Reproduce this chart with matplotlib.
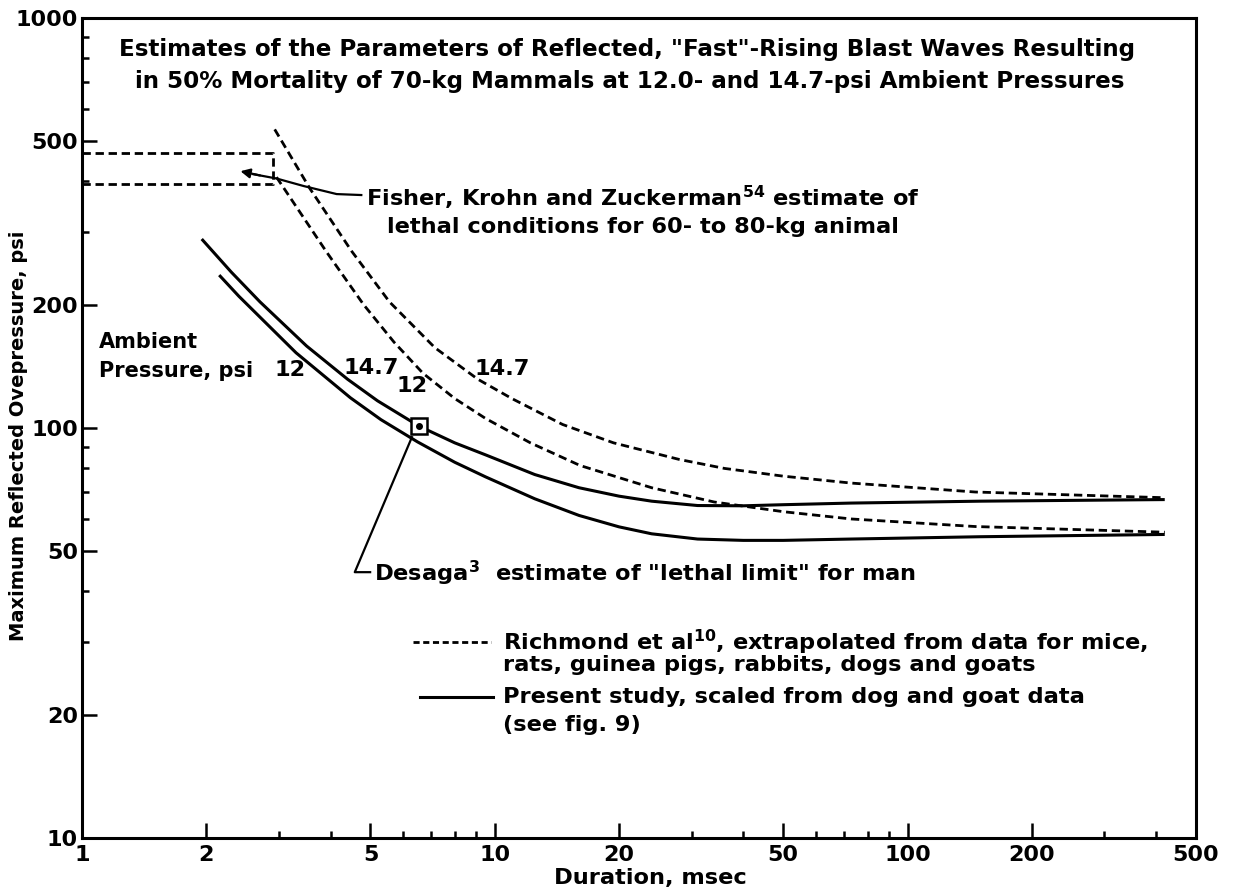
import matplotlib
matplotlib.use("Agg")
import matplotlib.pyplot as plt

# ---------------- data ----------------
x_major = [1, 2, 5, 10, 20, 50, 100, 200, 500]
x_major_labels = ["1", "2", "5", "10", "20", "50", "100", "200", "500"]
x_minor = [3, 4, 6, 7, 8, 9, 30, 40, 60, 70, 80, 90, 300, 400]
y_major = [10, 20, 50, 100, 200, 500, 1000]
y_major_labels = ["10", "20", "50", "100", "200", "500", "1000"]
y_minor = [30, 40, 60, 70, 80, 90, 300, 400, 600, 700, 800, 900]

# Present study (solid)
present_147_x = [1.95, 2.3, 2.7, 3.5, 4.4, 5.2, 6.56, 8.0, 9.5, 12.5, 16, 20, 24, 31, 40, 50, 73, 150, 420]
present_147_y = [289, 240, 203, 158.5, 131.5, 116.5, 101, 92, 86, 77, 71.5, 68.2, 66.3, 64.7, 64.6, 65.0, 65.6, 66.3, 66.9]
present_12_x = [2.15, 2.4, 3.3, 4.47, 5.3, 6.5, 8.0, 9.5, 12.5, 16, 20, 24, 31, 40, 50, 73, 150, 420]
present_12_y = [236, 209.5, 152.6, 118.5, 104.8, 92.5, 82.5, 76, 67.2, 61.2, 57.4, 55.2, 53.6, 53.2, 53.2, 53.6, 54.3, 55.0]

# Richmond et al (dashed)
richmond_147_x = [2.93, 3.57, 4.5, 5.56, 7.16, 9.1, 11.0, 14.6, 19.4, 28, 36, 50, 73, 146, 420]
richmond_147_y = [535, 383, 270, 203, 157, 131.5, 118, 102, 92, 83.8, 79.7, 76.3, 73.4, 69.8, 67.6]
richmond_12_x = [2.96, 3.91, 4.81, 5.7, 6.7, 8.0, 9.5, 12.2, 16.1, 24, 34, 50, 73, 146, 420]
richmond_12_y = [409, 269, 200, 162, 136, 118, 105.5, 92, 81, 71.5, 66, 62.5, 60, 57.5, 55.7]

# Fisher, Krohn and Zuckerman box of lethal conditions
fisher_box_x = [1, 2.9, 2.9, 1]
fisher_box_y = [469, 469, 393, 393]

# Desaga estimate
desaga_x = [6.56]
desaga_y = [101]

# ---------------- figure ----------------
plt.rcParams["font.family"] = ["DejaVu Sans"]
plt.rcParams["font.weight"] = "bold"
plt.rcParams["axes.labelweight"] = "bold"
plt.rcParams["mathtext.fontset"] = "custom"
plt.rcParams["mathtext.rm"] = "DejaVu Sans:bold"
plt.rcParams["mathtext.default"] = "rm"

FS = 16.2
FS_TITLE = 16.6
fig = plt.figure(figsize=(12.42, 8.9), dpi=100)
ax = fig.add_axes([82 / 1242, 1 - 838 / 890, (1196 - 82) / 1242, (838 - 18) / 890])
ax.set_xscale("log")
ax.set_yscale("log")
ax.set_xlim(1, 500)
ax.set_ylim(10, 1000)

dash = (0, (3, 1.7))
ax.plot(present_147_x, present_147_y, color="black", lw=2.2, solid_capstyle="butt")
ax.plot(present_12_x, present_12_y, color="black", lw=2.2, solid_capstyle="butt")
ax.plot(richmond_147_x, richmond_147_y, color="black", lw=2.0, linestyle=dash)
ax.plot(richmond_12_x, richmond_12_y, color="black", lw=2.0, linestyle=dash)
ax.plot(fisher_box_x, fisher_box_y, color="black", lw=2.0, linestyle=dash)

# Desaga marker
ax.plot(desaga_x, desaga_y, marker="s", ms=12, mfc="white", mec="black", mew=1.8,
        linestyle="none", zorder=5)
ax.plot(desaga_x, desaga_y, marker="o", ms=4, color="black", linestyle="none", zorder=6)

# Desaga leader line
ax.plot([6.3, 4.58, 4.99], [95, 44.5, 44.5], color="black", lw=1.6)
ax.text(5.1, 44.3, 'Desaga$^{3}$  estimate of "lethal limit" for man',
        fontsize=FS, ha="left", va="center")

# Fisher arrow and text
ax.plot([2.6, 2.96, 3.45, 4.14, 4.75], [416, 406, 389, 372, 370], color="black", lw=1.6)
ax.annotate("", xy=(2.42, 423), xytext=(2.7, 413),
            arrowprops=dict(arrowstyle="-|>", color="black", lw=1.6,
                            mutation_scale=14, shrinkA=0, shrinkB=0))
ax.text(4.88, 339, "Fisher, Krohn and Zuckerman$^{54}$ estimate of\nlethal conditions for 60- to 80-kg animal",
        fontsize=FS, ha="left", va="center", multialignment="center", linespacing=1.3)

# Title
ax.text(0.489, 0.961, 'Estimates of the Parameters of Reflected, "Fast"-Rising Blast Waves Resulting',
        transform=ax.transAxes, fontsize=FS_TITLE, ha="center", va="center")
ax.text(0.492, 0.922, "in 50% Mortality of 70-kg Mammals at 12.0- and 14.7-psi Ambient Pressures",
        transform=ax.transAxes, fontsize=FS_TITLE, ha="center", va="center")

# Ambient pressure labels
ax.text(1.1, 161.7, "Ambient", fontsize=15, ha="left", va="center")
ax.text(1.1, 137.5, "Pressure, psi", fontsize=15, ha="left", va="center")
ax.text(3.2, 138.3, "12", fontsize=FS, ha="center", va="center")
ax.text(5.03, 139.9, "14.7", fontsize=FS, ha="center", va="center")
ax.text(6.29, 126.5, "12", fontsize=FS, ha="center", va="center")
ax.text(10.4, 139.0, "14.7", fontsize=FS, ha="center", va="center")

# Legend (manual keys)
ax.plot([0.297, 0.367], [0.239, 0.239], transform=ax.transAxes, color="black", lw=2.0, linestyle=(0, (2.2, 1.3)))
ax.text(0.378, 0.239, "Richmond et al$^{10}$, extrapolated from data for mice,",
        transform=ax.transAxes, fontsize=FS, ha="left", va="center")
ax.text(0.378, 0.211, "rats, guinea pigs, rabbits, dogs and goats",
        transform=ax.transAxes, fontsize=FS, ha="left", va="center")
ax.plot([0.303, 0.369], [0.172, 0.172], transform=ax.transAxes, color="black", lw=2.2)
ax.text(0.378, 0.172, "Present study, scaled from dog and goat data",
        transform=ax.transAxes, fontsize=FS, ha="left", va="center")
ax.text(0.378, 0.138, "(see fig. 9)",
        transform=ax.transAxes, fontsize=FS, ha="left", va="center")

# Axes styling
ax.set_xticks(x_major)
ax.set_xticklabels(x_major_labels)
ax.set_xticks(x_minor, minor=True)
ax.set_xticklabels([], minor=True)
ax.set_yticks(y_major)
ax.set_yticklabels(y_major_labels)
ax.set_yticks(y_minor, minor=True)
ax.set_yticklabels([], minor=True)
ax.tick_params(which="both", direction="in", top=False, right=False, width=1.8, labelsize=16)
ax.tick_params(which="major", length=11)
ax.tick_params(which="minor", length=5)
ax.tick_params(axis="y", pad=3)
ax.tick_params(axis="x", pad=5)
for s in ax.spines.values():
    s.set_linewidth(2.2)

ax.set_xlabel("Duration, msec", fontsize=FS)
ax.set_ylabel("Maximum Reflected Ovepressure, psi", fontsize=14)
ax.xaxis.set_label_coords(0.51, -0.037)
ax.yaxis.set_label_coords(-0.0485, 0.49)

fig.savefig("out.png", dpi=100)
